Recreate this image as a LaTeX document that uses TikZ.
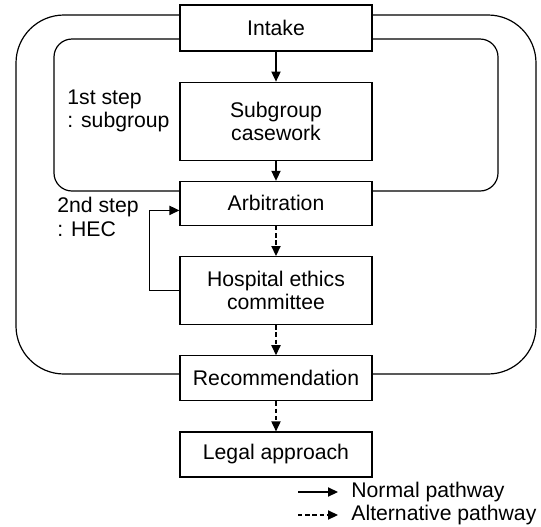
\documentclass[tikz,border=0pt]{standalone}
\usepackage{fontspec}
\setmainfont{Liberation Sans}
\usetikzlibrary{positioning,arrows.meta}

\begin{document}
\begin{tikzpicture}[
            node distance=15pt,
            font=\fontsize{10.6}{11.7}\selectfont,
            box/.style={draw, fill=white, line width=0.6pt, align=center, inner sep=0pt,
                        minimum width=96pt, minimum height=22.5pt},
            steplabel/.style={align=left, anchor=west, inner sep=0pt},
            normal/.style={line width=0.6pt, -{Triangle[length=5pt, width=4.6pt]}},
            alt/.style={normal, dash pattern=on 2.2pt off 1.4pt},
        ]
            \useasboundingbox (0,0) rectangle (270.5pt,-263pt);

            % the two loops
            \draw[line width=0.6pt, rounded corners=24pt] (8pt,-7.5pt) rectangle (268pt,-187pt);
            \draw[line width=0.6pt, rounded corners=9pt] (27pt,-19.5pt) rectangle (249pt,-95.5pt);

            \node[box, minimum height=23pt] (intake) at (138pt,-14pt) {Intake};
            \node[box, minimum height=39pt, below=of intake] (subgroup) {Subgroup\\casework};
            \node[box, minimum height=22pt, below=10pt of subgroup] (arb) {Arbitration};
            \node[box, minimum height=34pt, below=of arb] (hec) {Hospital ethics\\committee};
            \node[box, below=of hec] (rec) {Recommendation};
            \node[box, below=of rec] (legal) {Legal approach};

            \node[steplabel] (step1) at (33.5pt,-55.5pt) {1st step\\: subgroup};
            \node[steplabel] (step2) at (28.5pt,-108.5pt) {2nd step\\: HEC};

            \draw[normal] (intake) -- (subgroup);
            \draw[normal] (subgroup) -- (arb);
            \draw[alt] (arb) -- (hec);
            \draw[alt] (hec) -- (rec);
            \draw[alt] (rec) -- (legal);
            \draw[normal] (hec.west) -- ++(-15pt,0) |- ([yshift=-3.5pt]arb.west);

            % legend
            \node[steplabel] (normaltxt) at (175.5pt,-246pt) {Normal pathway};
            \node[steplabel] (alttxt) at (175.5pt,-257.5pt) {Alternative pathway};
            \coordinate (n0) at (149pt,-246pt);
            \coordinate (a0) at (149pt,-257.5pt);
            \draw[normal] (n0) -- ([xshift=-6.5pt]normaltxt.west);
            \draw[alt] (a0) -- ([xshift=-6.5pt]alttxt.west);

        \end{tikzpicture}
\end{document}
